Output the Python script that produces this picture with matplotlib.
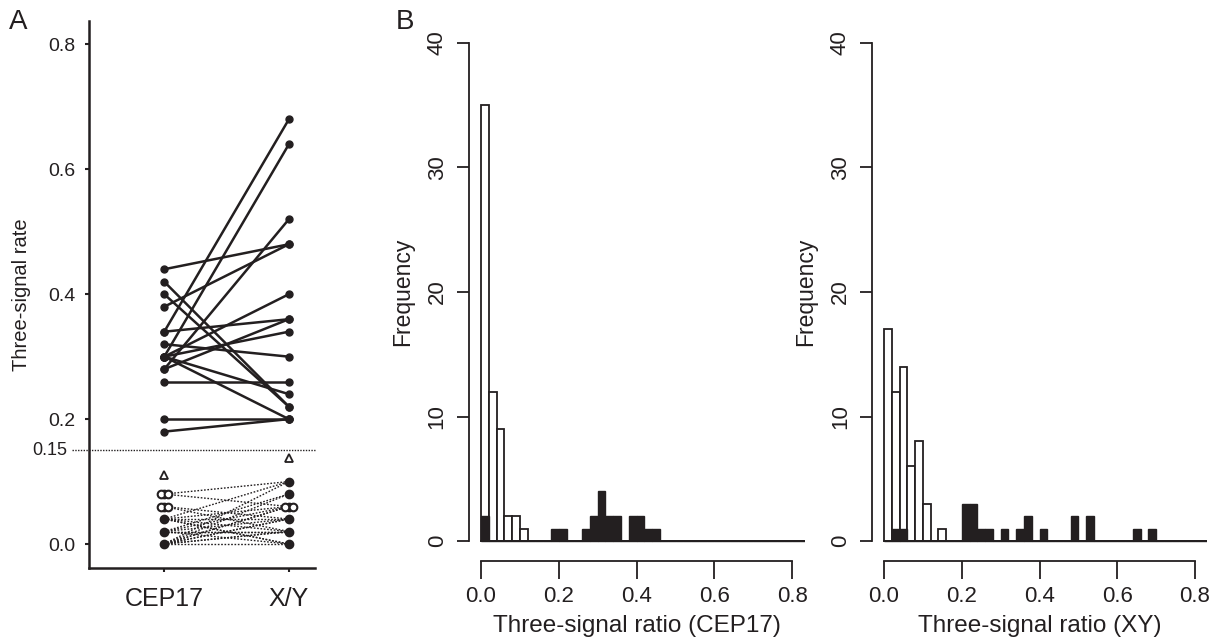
import numpy as np
import matplotlib
matplotlib.use('Agg')
import matplotlib.pyplot as plt

plt.rcParams['font.family'] = ['Liberation Sans', 'DejaVu Sans']

# ---------------- data ----------------
# Panel A: paired three-signal rates (CEP17 -> X/Y), rate >= 0.15 group
cep17_high = [0.44, 0.42, 0.40, 0.38, 0.34, 0.34, 0.32, 0.30, 0.30, 0.30, 0.30, 0.28, 0.28, 0.26, 0.20, 0.18, 0.30]
xy_high = [0.48, 0.22, 0.22, 0.48, 0.68, 0.36, 0.30, 0.64, 0.40, 0.20, 0.24, 0.52, 0.36, 0.26, 0.20, 0.20, 0.34]
# rate < 0.15 group
cep17_low = [0.00, 0.00, 0.00, 0.00, 0.00, 0.00, 0.00, 0.02, 0.02, 0.02, 0.02, 0.02, 0.04, 0.04,
             0.04, 0.04, 0.04, 0.06, 0.06, 0.08, 0.08, 0.00, 0.02, 0.04, 0.00]
xy_low = [0.00, 0.02, 0.04, 0.06, 0.08, 0.10, 0.04, 0.00, 0.04, 0.06, 0.08, 0.02, 0.02, 0.04,
          0.06, 0.10, 0.00, 0.04, 0.02, 0.06, 0.10, 0.02, 0.02, 0.00, 0.06]
low_open_left = [0.08, 0.06]
low_open_right = [0.06]
tri_cep17 = 0.11
tri_xy = 0.137
threshold = 0.15
categories = ['CEP17', 'X/Y']

# Panel B: histogram counts, bins of width 0.02 from 0 to 0.84
bin_edges = [round(0.02 * i, 2) for i in range(43)]
cep17_white = [35, 12, 9, 2, 2, 1] + [0] * 36
cep17_black = [2, 0, 0, 0, 0, 0, 0, 0, 0, 1, 1, 0, 0, 1, 2, 4, 2, 2, 0, 2, 2, 1, 1] + [0] * 19
xy_white = [17, 12, 14, 6, 8, 3, 0, 1] + [0] * 34
xy_black = [0, 1, 1, 0, 0, 0, 0, 0, 0, 0, 3, 3, 1, 1, 0, 1, 0, 1, 2, 0, 1, 0, 0, 0, 2, 0, 2,
            0, 0, 0, 0, 0, 1, 0, 1] + [0] * 7
hist_ticks = [0.0, 0.2, 0.4, 0.6, 0.8]
freq_ticks = [0, 10, 20, 30, 40]

# ---------------- figure ----------------
W, H = 1219, 639
fig = plt.figure(figsize=(W / 100, H / 100), dpi=100)


def ax_px(l, r, b, t):
    return fig.add_axes([l / W, 1 - b / H, (r - l) / W, (b - t) / H])


dark = '#231f20'

# ---------- Panel A ----------
axA = ax_px(89, 315, 568, 21)
axA.set_xlim(0.396, 2.21)
axA.set_ylim(-0.0384, 0.8375)
for s in ['top', 'right']:
    axA.spines[s].set_visible(False)
for s in ['left', 'bottom']:
    axA.spines[s].set_linewidth(1.8)
    axA.spines[s].set_color(dark)
axA.set_yticks([0, 0.2, 0.4, 0.6, 0.8])
axA.set_yticklabels(['0.0', '0.2', '0.4', '0.6', '0.8'])
axA.set_xticks([1, 2])
axA.set_xticklabels(categories)
axA.tick_params(axis='y', length=3, width=1.5, pad=7, labelsize=14, colors=dark)
axA.tick_params(axis='x', length=3, width=1.5, pad=11, labelsize=18, colors=dark)
axA.set_ylabel('Three-signal rate', fontsize=14.5, color=dark, labelpad=12)

# threshold line
axA.plot([0.26, 2.21], [threshold, threshold], ls=(0, (1, 1)), color=dark, lw=1.0, clip_on=False)
axA.text(0.22, threshold, '0.15', ha='right', va='center', fontsize=13, color=dark,
         transform=axA.transData)

# low group
for a, b in zip(cep17_low, xy_low):
    axA.plot([1, 2], [a, b], ls=(0, (1.2, 1.2)), color=dark, lw=1.0)
for a in sorted(set(cep17_low)):
    axA.plot(1, a, 'o', ms=6, color=dark)
for b in sorted(set(xy_low)):
    axA.plot(2, b, 'o', ms=6, color=dark)
for a in low_open_left:
    axA.plot([0.97, 1.03], [a, a], 'o', ms=5.5, mfc='white', mec=dark, mew=1.5)
for b in low_open_right:
    axA.plot([1.97, 2.03], [b, b], 'o', ms=5.5, mfc='white', mec=dark, mew=1.5)
axA.plot(1, tri_cep17, '^', ms=6, mfc='white', mec=dark, mew=1.3)
axA.plot(2, tri_xy, '^', ms=6, mfc='white', mec=dark, mew=1.3)

# high group
for a, b in zip(cep17_high, xy_high):
    axA.plot([1, 2], [a, b], '-', color=dark, lw=1.8)
    axA.plot([1, 2], [a, b], 'o', ms=5, color=dark)

fig.text(18 / W, 1 - 22 / H, 'A', fontsize=20, ha='center', va='center', color=dark)
fig.text(405 / W, 1 - 22 / H, 'B', fontsize=20, ha='center', va='center', color=dark)


# ---------- Panel B ----------
def hist_panel(ax, white, black, xlabel):
    ax.set_xlim(-0.032, 0.832)
    ax.set_ylim(-1.6, 41.6)
    for s in ax.spines.values():
        s.set_visible(False)
    left = bin_edges[:-1]
    ax.bar(left, white, width=0.02, align='edge', facecolor='white', edgecolor=dark, lw=1.3)
    ax.bar(left, black, width=0.02, align='edge', facecolor=dark, edgecolor=dark, lw=1.0)
    ax.plot([0, bin_edges[-1]], [0, 0], color=dark, lw=1.3)
    # R-style detached axes
    ax.plot([0, 0.8], [-1.6, -1.6], color=dark, lw=1.3, clip_on=False)
    ax.plot([-0.032, -0.032], [0, 40], color=dark, lw=1.3, clip_on=False)
    ax.set_xticks(hist_ticks)
    ax.set_xticklabels(['%.1f' % t for t in hist_ticks])
    ax.set_yticks(freq_ticks)
    ax.set_yticklabels([str(t) for t in freq_ticks])
    ax.tick_params(axis='x', length=13, width=1.3, pad=5, labelsize=16, colors=dark)
    ax.tick_params(axis='y', length=9, width=1.3, pad=6, labelsize=16, colors=dark)
    for lab in ax.get_yticklabels():
        lab.set_rotation(90)
        lab.set_va('center')
    ax.set_xlabel(xlabel, fontsize=17.5, color=dark, labelpad=6)
    ax.set_ylabel('Frequency', fontsize=16.5, color=dark, labelpad=9)


axB1 = ax_px(468.5, 804.7, 561, 23)
hist_panel(axB1, cep17_white, cep17_black, 'Three-signal ratio (CEP17)')
axB2 = ax_px(871.6, 1207.4, 561, 23)
hist_panel(axB2, xy_white, xy_black, 'Three-signal ratio (XY)')

fig.savefig('out.png', dpi=100)
